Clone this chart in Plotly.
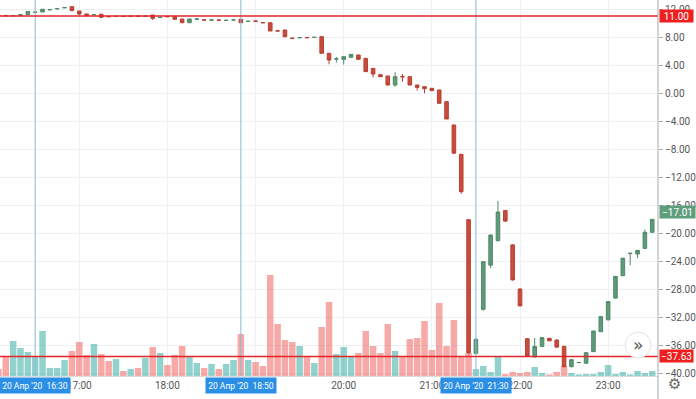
import plotly.graph_objects as go
import pandas as pd

# ---- data (5-minute candles, 20 Apr 2020) ----
times = pd.date_range("2020-04-20 16:05", "2020-04-20 23:30", freq="5min")

opens = [11.10, 11.08, 11.02, 11.06, 11.19, 11.52, 11.57, 11.88, 12.02, 12.17,
         12.33, 11.71, 11.29, 11.17, 11.24, 10.92, 10.93, 10.96, 10.95, 10.98,
         10.96, 11.14, 10.78, 10.92, 10.90, 10.57, 10.04, 10.55, 10.45, 10.41,
         10.42, 10.37, 10.42, 10.53, 10.22, 10.28, 10.06, 10.04, 8.88, 9.00,
         7.83, 7.88, 7.92, 7.93, 8.04, 5.67, 4.85, 4.81, 5.10, 5.43,
         4.95, 3.52, 2.62, 2.43, 1.14, 2.35, 2.33, 1.14, 0.90, 0.67,
         0.43, -1.24, -4.57, -8.76, -18.10, -37.20, -30.90, -24.60, -21.10, -16.80,
         -21.70, -28.00, -35.10, -37.70, -36.20, -35.05, -35.30, -36.20, -39.10, -38.52,
         -38.60, -36.95, -34.10, -32.40, -29.30, -26.10, -22.95, -23.00, -22.20, -19.90]
highs = [11.12, 11.10, 11.10, 11.20, 11.68, 11.56, 11.98, 11.92, 12.06, 12.21,
         12.36, 11.73, 11.30, 11.21, 11.26, 10.93, 10.97, 10.97, 10.99, 10.99,
         11.00, 11.16, 10.83, 10.93, 10.92, 10.58, 10.59, 10.59, 10.46, 10.45,
         10.43, 10.40, 10.45, 10.55, 10.26, 10.29, 10.07, 10.06, 8.90, 9.02,
         7.85, 7.93, 7.93, 7.97, 8.06, 5.69, 5.15, 5.20, 5.55, 5.45,
         4.97, 3.55, 2.64, 2.45, 2.95, 2.71, 2.36, 1.16, 0.92, 0.69,
         0.45, -1.22, -4.55, -8.74, -18.00, -35.00, -24.00, -20.20, -15.40, -16.70,
         -21.60, -27.90, -35.00, -35.00, -34.90, -34.95, -35.20, -36.10, -38.00, -38.45,
         -37.00, -34.00, -31.90, -29.80, -26.20, -23.60, -22.85, -22.40, -19.50, -18.00]
lows = [11.02, 11.00, 11.00, 11.04, 11.17, 11.50, 11.55, 11.86, 12.00, 12.15,
        11.74, 11.10, 11.02, 11.15, 10.79, 10.88, 10.92, 10.93, 10.94, 10.95,
        10.95, 10.43, 10.77, 10.88, 10.52, 10.02, 10.02, 10.54, 10.41, 10.40,
        10.38, 10.36, 10.41, 10.02, 10.21, 10.24, 10.02, 8.84, 8.84, 8.02,
        7.79, 7.87, 7.88, 7.92, 5.65, 4.10, 4.35, 4.05, 5.08, 4.79,
        3.03, 2.24, 2.31, 1.12, 0.90, 1.62, 1.12, 0.33, -0.05, 0.31,
        -1.49, -3.73, -8.62, -14.40, -37.30, -37.30, -31.10, -25.00, -21.20, -18.40,
        -26.80, -30.50, -37.70, -37.80, -36.30, -35.45, -36.40, -39.20, -39.20, -38.55,
        -38.70, -37.00, -34.15, -32.50, -29.35, -26.15, -24.60, -23.60, -22.25, -19.95]
closes = [11.05, 11.04, 11.06, 11.18, 11.66, 11.55, 11.96, 11.91, 12.05, 12.20,
          11.76, 11.29, 11.04, 11.20, 10.81, 10.90, 10.96, 10.94, 10.98, 10.96,
          10.99, 10.67, 10.82, 10.90, 10.53, 10.04, 10.57, 10.58, 10.43, 10.44,
          10.40, 10.39, 10.44, 10.04, 10.25, 10.26, 10.04, 8.86, 8.86, 8.04,
          7.81, 7.92, 7.90, 7.96, 5.67, 4.71, 4.88, 5.19, 5.52, 4.81,
          3.05, 2.71, 2.33, 1.14, 2.33, 2.31, 1.14, 0.81, 0.62, 0.33,
          -1.47, -3.71, -8.60, -14.10, -37.10, -35.20, -24.10, -20.30, -17.00, -18.30,
          -26.70, -30.40, -37.60, -36.20, -34.95, -35.40, -36.30, -39.10, -38.10, -38.50,
          -37.10, -34.00, -31.95, -29.80, -26.20, -23.60, -22.90, -22.50, -19.90, -18.05]
volumes = [7, 19, 35, 28, 24, 19, 45, 8, 8, 16,
           25, 34, 21, 32, 22, 15, 17, 5, 7, 8,
           18, 29, 23, 11, 21, 30, 19, 13, 8, 12,
           7, 12, 16, 42, 16, 14, 10, 101, 52, 36,
           34, 30, 19, 13, 49, 74, 22, 29, 20, 23,
           45, 30, 23, 52, 25, 19, 37, 38, 55, 26,
           73, 30, 56, 19, 23, 7, 10, 4, 20, 2,
           4, 3, 4, 9, 3, 1.5, 4, 10, 3, 1.5,
           2, 2, 4, 11, 2, 4, 1.5, 5, 3, 5]

hour_ticks = ["2020-04-20 17:00", "2020-04-20 18:00", "2020-04-20 19:00", "2020-04-20 20:00",
              "2020-04-20 21:00", "2020-04-20 22:00", "2020-04-20 23:00"]
hour_labels = ["17:00", "18:00", "19:00", "20:00", "21:00", "22:00", "23:00"]
price_ticks = [-40, -36, -32, -28, -24, -20, -16, -12, -8, -4, 0, 4, 8, 12]
price_labels = [f"{v:.2f}".replace("-", "\u2212") for v in price_ticks]

h_levels = [11.00, -37.63]
h_level_labels = ["11.00", "\u221237.63"]
last_price = -17.01
last_price_label = "\u221217.01"
marker_times = ["2020-04-20 16:30", "2020-04-20 18:50", "2020-04-20 21:30"]
marker_labels = ["20 Апр '20  16:30", "20 Апр '20  18:50", "20 Апр '20  21:30"]

# ---- styling ----
UP_VOL = "rgba(38,166,154,0.5)"
DN_VOL = "rgba(239,83,80,0.5)"
vol_colors = [UP_VOL if c >= o else DN_VOL for o, c in zip(opens, closes)]

fig = go.Figure()
fig.add_trace(go.Bar(x=times, y=volumes, marker_color=vol_colors, marker_line_width=0,
                     width=265000, yaxis="y", showlegend=False, hoverinfo="skip"))
fig.add_trace(go.Candlestick(
    x=times, open=opens, high=highs, low=lows, close=closes, yaxis="y2",
    increasing=dict(fillcolor="#5f9b7a", line=dict(color="#4f8a69", width=1)),
    decreasing=dict(fillcolor="#c84c3c", line=dict(color="#b84032", width=1)),
    whiskerwidth=0, showlegend=False))

shapes = []
for t in marker_times:
    shapes.append(dict(type="line", xref="x", yref="paper", x0=t, x1=t, y0=0, y1=1,
                       line=dict(color="#86b9d6", width=1), layer="above"))
for lv in h_levels:
    shapes.append(dict(type="line", xref="paper", yref="y2", x0=0, x1=1, y0=lv, y1=lv,
                       line=dict(color="#e3262a", width=1.5), layer="above"))
# price scale border
shapes.append(dict(type="line", xref="paper", yref="paper", x0=1, x1=1, y0=-0.062, y1=1,
                   line=dict(color="#a9a9a9", width=1), layer="above"))
# scroll-to-realtime button
shapes.append(dict(type="circle", xref="paper", yref="paper",
                   x0=627 / 660, x1=653 / 660, y0=(376 - 358) / 376, y1=(376 - 332) / 376,
                   fillcolor="white", line=dict(color="#e4e4e4", width=1), layer="above"))

annotations = []
for t, lab in zip(marker_times, marker_labels):
    annotations.append(dict(x=t, xref="x", y=0, yref="paper", yanchor="top", yshift=-1,
                            text=lab, showarrow=False, bgcolor="#2b8fe6",
                            font=dict(color="white", size=8.5, family="Roboto"),
                            width=66, height=11, borderpad=2))
for lv, lab in zip(h_levels, h_level_labels):
    annotations.append(dict(x=1, xref="paper", xanchor="left", xshift=1, y=lv, yref="y2",
                            text=lab, showarrow=False, bgcolor="#ee1f1f",
                            font=dict(color="white", size=10, family="Roboto"),
                            width=31, height=10, borderpad=1))
annotations.append(dict(x=1, xref="paper", xanchor="left", xshift=1, y=last_price, yref="y2",
                        text=last_price_label, showarrow=False, bgcolor="#5f9e7c",
                        font=dict(color="white", size=10, family="Roboto"),
                        width=33, height=10, borderpad=1))
annotations.append(dict(x=640 / 660, xref="paper", y=(376 - 345) / 376, yref="paper",
                        xanchor="center", yanchor="middle",
                        text="»", showarrow=False,
                        font=dict(color="#555555", size=17, family="DejaVu Sans")))
annotations.append(dict(x=677 / 660, xref="paper", y=(376 - 384) / 376, yref="paper",
                        xanchor="center", yanchor="middle",
                        text="⚙", showarrow=False,
                        font=dict(color="#666666", size=15, family="DejaVu Sans")))

fig.update_layout(
    width=696, height=399,
    margin=dict(l=0, r=36, t=0, b=23),
    paper_bgcolor="white", plot_bgcolor="white",
    font=dict(family="Roboto", size=10, color="#555555"),
    boxgap=0.3,
    xaxis=dict(type="date", range=["2020-04-20 16:06:03", "2020-04-20 23:33:56"],
               tickvals=hour_ticks, ticktext=hour_labels, showgrid=True, gridcolor="#eef0f5",
               gridwidth=1, showline=True, linecolor="#dcdcdc", ticks="",
               tickfont=dict(size=10, color="#555555"), rangeslider=dict(visible=False),
               zeroline=False, fixedrange=True),
    yaxis=dict(range=[0, 376], visible=False, showgrid=False, fixedrange=True),
    yaxis2=dict(overlaying="y", side="right", anchor="x",
                range=[(93 - 376) / 7, 93 / 7],
                tickvals=price_ticks, ticktext=price_labels,
                showgrid=True, gridcolor="#eef0f5", gridwidth=1, zeroline=False,
                ticks="outside", ticklen=4, tickcolor="#a9a9a9",
                tickfont=dict(size=10, color="#555555"), fixedrange=True),
    shapes=shapes, annotations=annotations,
    hovermode=False, showlegend=False,
)

fig.write_html("out.html", config={"displayModeBar": False},
               post_script="document.body.style.margin='0px';document.body.style.overflow='hidden';")
